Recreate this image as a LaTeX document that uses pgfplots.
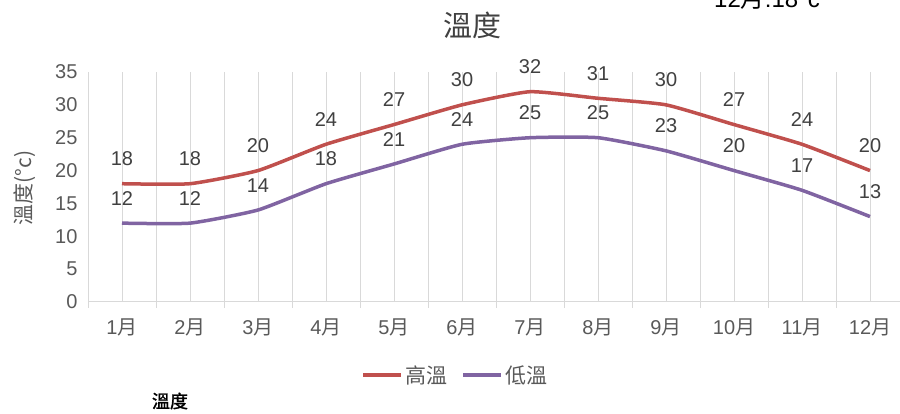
\documentclass[border=0pt]{standalone}
\usepackage{pgfplots}
\pgfplotsset{compat=1.18}
\usepackage{fontspec}
\setmainfont{Liberation Sans}
\newfontfamily\cjk{Noto Sans CJK TC}
\newfontfamily\cjkb{Noto Sans CJK TC}[FakeBold=1.5]
\definecolor{hi}{RGB}{192,80,77}
\definecolor{lo}{RGB}{128,100,162}
\definecolor{tx}{RGB}{89,89,89}
\definecolor{dk}{RGB}{64,64,64}
\definecolor{gr}{RGB}{217,217,217}
\newcommand{\fs}[1]{\fontsize{#1}{#1}\selectfont}
\begin{document}
\begin{tikzpicture}[x=1pt,y=1pt]
\useasboundingbox (0,0) rectangle (900,414);
\begin{axis}[at={(88pt,112pt)}, anchor=south west, scale only axis,
  width=816pt, height=230pt,
  xmin=0.5, xmax=12.5, ymin=0, ymax=35,
  xtick={1,...,12},
  xticklabels={1{\cjk 月},2{\cjk 月},3{\cjk 月},4{\cjk 月},5{\cjk 月},6{\cjk 月},7{\cjk 月},8{\cjk 月},9{\cjk 月},10{\cjk 月},11{\cjk 月},12{\cjk 月}},
  ytick={0,5,...,35},
  axis x line*=bottom, axis y line*=left,
  y axis line style={draw=none},
  x axis line style={gr, line width=1pt},
  xmajorgrids, major grid style={gr, line width=1pt},
  major tick length=0pt,
  extra x ticks={0.5,1.5,...,12.5}, extra x tick labels={},
  extra x tick style={grid=major, major tick length=6pt, tick align=outside, tick style={gr, line width=1pt}},
  ticklabel style={font=\fs{20}, text=tx},
  yticklabel style={xshift=-7pt},
  xticklabel style={yshift=-13pt},
  /pgf/number format/assume math mode=true,
  clip=false,
  nodes near coords,
  nodes near coords style={font=\fs{20}, text=dk, anchor=south, inner sep=0pt, yshift=16pt},
  legend style={at={(0.4498,-0.317)}, anchor=center, draw=none, fill=none, legend columns=2,
    font=\cjk\fs{21}, text=tx, /tikz/every even column/.append style={column sep=12pt}},
  legend image code/.code={\draw[#1, line width=4pt] (0pt,0pt) -- (38pt,0pt);},
]
\addplot[hi, line width=3.5pt, smooth, tension=0.3] coordinates {
(1,18) (2,18) (3,20) (4,24) (5,27) (6,30) (7,32) (8,31) (9,30) (10,27) (11,24) (12,20)};
\addlegendentry{高溫}
\addplot[lo, line width=3.5pt, smooth, tension=0.3] coordinates {
(1,12) (2,12) (3,14) (4,18) (5,21) (6,24) (7,25) (8,25) (9,23) (10,20) (11,17) (12,13)};
\addlegendentry{低溫}
\end{axis}
\node[font=\cjk\fs{29}, text=dk] at (472,389) {溫度};
\node[font=\cjk\fs{21}, text=tx, rotate=90] at (25,226) {溫度(°c)};
\node[font=\fs{24}, text=black, anchor=base, inner sep=0pt] at (767,406) {12{\cjk 月}:18°c};
\node[font=\cjkb\fs{18}, text=black] at (170,13) {溫度};
\end{tikzpicture}
\end{document}
